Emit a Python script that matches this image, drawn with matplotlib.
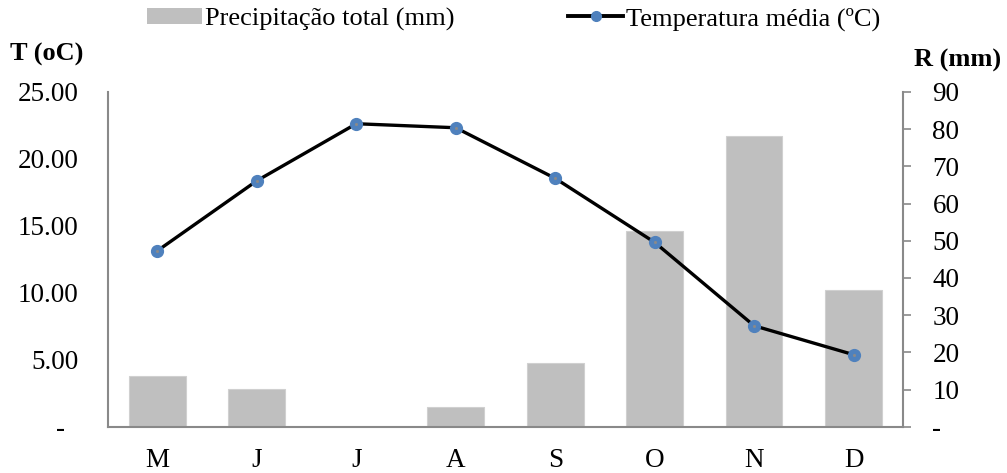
import matplotlib
matplotlib.use("Agg")
import matplotlib.pyplot as plt
from matplotlib.patches import Patch
from matplotlib.lines import Line2D
from matplotlib.ticker import FixedLocator, FixedFormatter

plt.rcParams['font.family'] = ['Liberation Serif', 'DejaVu Serif']

months = ['M', 'J', 'J', 'A', 'S', 'O', 'N', 'D']
precip_mm = [13.6, 10.1, 0.0, 5.3, 17.1, 52.7, 78.2, 36.8]
temp_c = [13.14, 18.37, 22.63, 22.33, 18.55, 13.77, 7.54, 5.38]

temp_ticks = [0, 5, 10, 15, 20, 25]
temp_labels = ['-  ', '5.00', '10.00', '15.00', '20.00', '25.00']
precip_ticks = [0, 10, 20, 30, 40, 50, 60, 70, 80, 90]
precip_labels = ['-', '10', '20', '30', '40', '50', '60', '70', '80', '90']

bar_color = '#bfbfbf'
line_color = '#000000'
marker_color = '#4f81bd'
spine_color = '#898989'
fs = 19.5

fig = plt.figure(figsize=(10.07, 4.73), dpi=100)
ax_t = fig.add_axes([0.1069, 0.0979, 0.7901, 0.7076])
ax_r = ax_t.twinx()

x = list(range(len(months)))

# precipitation bars on the right axis, drawn beneath the temperature line
ax_r.bar(x, precip_mm, width=0.57, color=bar_color, edgecolor='#d0d0d0', linewidth=0.8, zorder=1)
ax_r.set_ylim(0, 90)
ax_r.yaxis.set_major_locator(FixedLocator(precip_ticks))
ax_r.yaxis.set_major_formatter(FixedFormatter(precip_labels))
ax_r.tick_params(axis='y', direction='out', length=6, width=1.2, color=spine_color,
                 labelsize=fs, pad=15)
for lbl in ax_r.get_yticklabels():
    lbl.set_horizontalalignment('left')

# temperature line on the left axis
ax_t.set_zorder(ax_r.get_zorder() + 1)
ax_t.patch.set_visible(False)
ax_t.plot(x, temp_c, color=line_color, linewidth=2.4, marker='o', markersize=8.5,
          markerfacecolor=marker_color, markeredgecolor=marker_color, zorder=3)
ax_t.plot(x, temp_c, linestyle='none', marker='o', markersize=2.2,
          markerfacecolor='#8a8a8a', markeredgecolor='none', zorder=4)
ax_t.set_ylim(0, 25)
ax_t.set_xlim(-0.5, len(months) - 0.5)
ax_t.yaxis.set_major_locator(FixedLocator(temp_ticks))
ax_t.yaxis.set_major_formatter(FixedFormatter(temp_labels))
ax_t.tick_params(axis='y', length=0, labelsize=fs, pad=21)
ax_t.set_xticks(x)
ax_t.set_xticklabels(months)
ax_t.tick_params(axis='x', length=0, labelsize=fs, pad=15)

for a in (ax_t, ax_r):
    a.spines['top'].set_visible(False)
    for side in ('left', 'right', 'bottom'):
        a.spines[side].set_color(spine_color)
        a.spines[side].set_linewidth(1.5)
ax_t.spines['right'].set_visible(False)
ax_r.spines['left'].set_visible(False)
ax_r.spines['bottom'].set_visible(False)

# axis titles
fig.text(10 / 1007, 1 - 54 / 473, 'T (oC)', fontsize=19, fontweight='bold',
         ha='left', va='center')
fig.text(1001 / 1007, 1 - 60 / 473, 'R (mm)', fontsize=19, fontweight='bold',
         ha='right', va='center')

handles = [
    Patch(facecolor=bar_color, edgecolor='none'),
    Line2D([0], [0], color=line_color, linewidth=2.8, marker='o', markersize=7,
           markerfacecolor=marker_color, markeredgecolor=marker_color),
]
fig.legend(handles, ['Precipitação total (mm)', 'Temperatura média (ºC)'],
           loc='center', bbox_to_anchor=(0.51, 1 - 19 / 473), ncol=2, frameon=False,
           fontsize=19, handlelength=2.1, handleheight=0.6, handletextpad=0.1,
           columnspacing=4.3, borderpad=0)

fig.savefig('out.png', dpi=100)
